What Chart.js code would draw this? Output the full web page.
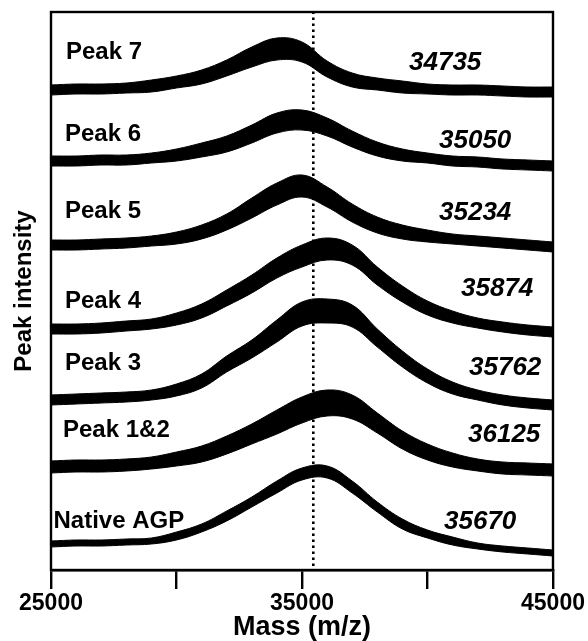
<!DOCTYPE html>
<html>
<head>
<meta charset="utf-8">
<script src="https://cdn.jsdelivr.net/npm/chart.js@4.4.1/dist/chart.umd.min.js"></script>
<style>
html,body{margin:0;padding:0;background:#fff;}
#wrap{width:588px;height:641px;position:relative;}
</style>
</head>
<body>
<div id="wrap"><canvas id="c"></canvas></div>
<script>
// ---- data ----
const masses = [25000,26000,27000,28000,29000,30000,31000,32000,33000,34000,35000,
                36000,37000,38000,39000,40000,41000,42000,43000,44000,45000];
const spectrumNames = ['Peak 7','Peak 6','Peak 5','Peak 4','Peak 3','Peak 1&2','Native AGP'];
const averageMasses = ['34735','35050','35234','35874','35762','36125','35670'];

// stacked intensity (a.u.), centre of the noisy trace
const peak7  = [480,481,481,482,484,488,493,502,513,521,518,501,490,486,483,481,480,480,479,478,478];
const peak6  = [409,409,410,410,412,415,420,426,436,447,450,443,431,421,415,412,409,408,406,405,404];
const peak5  = [325,325,326,327,329,332,338,348,362,376,384,373,357,345,338,334,331,329,327,325,323];
const peak4  = [241,241,242,244,246,251,259,272,286,302,314,321,315,294,276,262,253,247,243,240,238];
const peak3  = [170,171,172,173,175,180,189,206,221,239,256,259,254,232,211,194,182,175,170,167,165];
const peak12 = [103,104,104,105,107,111,116,125,136,148,160,167,163,147,130,118,110,105,102,101,100];
const native = [26,27,27,28,29,34,42,54,68,83,96,98,83,63,46,36,29,24,21,19,17];

// half-width of the noise band (a.u.)
const peak7Noise  = [5,5,5,5,6,6,7,8,10,11,10,8,7,6,6,5,5,5,5,5,5];
const peak6Noise  = [5,5,5,5,5,6,7,8,9,10,10,9,8,7,6,5,5,5,5,5,5];
const peak5Noise  = [5,5,5,5,5,6,7,8,10,11,11,10,9,8,7,6,5,5,5,5,5];
const peak4Noise  = [5,5,5,5,5,6,7,8,9,10,11,11,10,9,8,7,6,5,5,5,5];
const peak3Noise  = [5,5,5,5,5,6,7,8,9,11,12,12,11,9,8,7,6,5,5,5,5];
const peak12Noise = [6,6,6,6,6,7,8,9,10,12,13,13,12,10,9,8,7,6,6,6,6];
const nativeNoise = [3,3,3,3,3,4,4,5,5,6,6,6,6,5,5,4,4,3,3,3,3];

const xTickLabels = [25000, 35000, 45000];
const referenceMass = 35450;
const referenceSpan = [4, 561];

// ---- build chart ----
const FONT = '"Liberation Sans", Arial, Helvetica, sans-serif';
Chart.defaults.font.family = FONT;
Chart.defaults.color = '#000';

const centres = [peak7, peak6, peak5, peak4, peak3, peak12, native];
const noises  = [peak7Noise, peak6Noise, peak5Noise, peak4Noise, peak3Noise, peak12Noise, nativeNoise];

const datasets = [];
centres.forEach((c, i) => {
  const n = noises[i];
  const common = {
    borderColor: '#000', backgroundColor: '#000', borderWidth: 1,
    pointRadius: 0, tension: 0.4
  };
  datasets.push(Object.assign({}, common, {
    label: spectrumNames[i] + ' upper',
    data: masses.map((m, k) => ({x: m, y: c[k] + n[k]})),
    fill: false
  }));
  datasets.push(Object.assign({}, common, {
    label: spectrumNames[i] + ' lower',
    data: masses.map((m, k) => ({x: m, y: c[k] - n[k]})),
    fill: '-1'
  }));
});
datasets.push({
  label: 'reference',
  data: [{x: referenceMass, y: referenceSpan[0]}, {x: referenceMass, y: referenceSpan[1]}],
  borderColor: '#000', borderWidth: 2.6, borderDash: [2.6, 3.4], borderCapStyle: 'butt',
  pointRadius: 0, fill: false, clip: false
});

// text placement (pixel offsets from the plot area's top-left corner)
const nameOffsets = [[15,46.5],[14,128.5],[14,206],[14,296],[14,357.5],[12,425],[2.5,516]];
const massOffsets = [[358,58.4],[388,136],[388,207.5],[410,284],[418,363],[417,430],[393,517]];

const annot = {
  id: 'annot',
  afterDatasetsDraw(chart) {
    const {ctx, chartArea: a} = chart;
    ctx.save();
    ctx.strokeStyle = '#000';
    ctx.lineWidth = 2.4;
    ctx.strokeRect(a.left, a.top, a.right - a.left, a.bottom - a.top);
    ctx.fillStyle = '#000';
    ctx.textBaseline = 'alphabetic';
    ctx.textAlign = 'left';
    ctx.font = 'bold 24px ' + FONT;
    spectrumNames.forEach((t, i) => ctx.fillText(t, a.left + nameOffsets[i][0], a.top + nameOffsets[i][1]));
    ctx.font = 'italic bold 26px ' + FONT;
    averageMasses.forEach((t, i) => ctx.fillText(t, a.left + massOffsets[i][0], a.top + massOffsets[i][1]));
    ctx.restore();
  }
};

new Chart(document.getElementById('c'), {
  type: 'line',
  data: { datasets },
  plugins: [annot],
  options: {
    responsive: true,
    maintainAspectRatio: false,
    devicePixelRatio: 1,
    animation: false,
    events: [],
    layout: { padding: { top: 12, right: 35, left: 0, bottom: 0 } },
    plugins: { legend: { display: false }, tooltip: { enabled: false } },
    scales: {
      x: {
        type: 'linear', min: 25000, max: 45000,
        afterFit: s => { s.height = 71; },
        ticks: {
          stepSize: 5000, padding: 1, maxRotation: 0, autoSkip: false,
          font: { size: 23, weight: 'bold' }, color: '#000',
          callback: v => xTickLabels.includes(v) ? String(v) : ''
        },
        grid: { drawOnChartArea: false, drawTicks: true, tickLength: 19, tickWidth: 2.4, color: '#000', lineWidth: 2.4 },
        border: { display: true, color: '#000', width: 2.4 },
        title: { display: true, text: 'Mass (m/z)', font: { size: 27, weight: 'bold', lineHeight: 1 }, padding: { top: 0, bottom: 0 }, color: '#000' }
      },
      y: {
        type: 'linear', min: 0, max: 558,
        afterFit: s => { s.width = 51; },
        ticks: { display: false },
        grid: { display: false, drawTicks: false },
        border: { display: false },
        title: { display: true, text: 'Peak intensity', font: { size: 24, weight: 'bold', lineHeight: 1.2 }, padding: { top: 10, bottom: 0 }, color: '#000' }
      }
    }
  }
});
</script>
</body>
</html>
